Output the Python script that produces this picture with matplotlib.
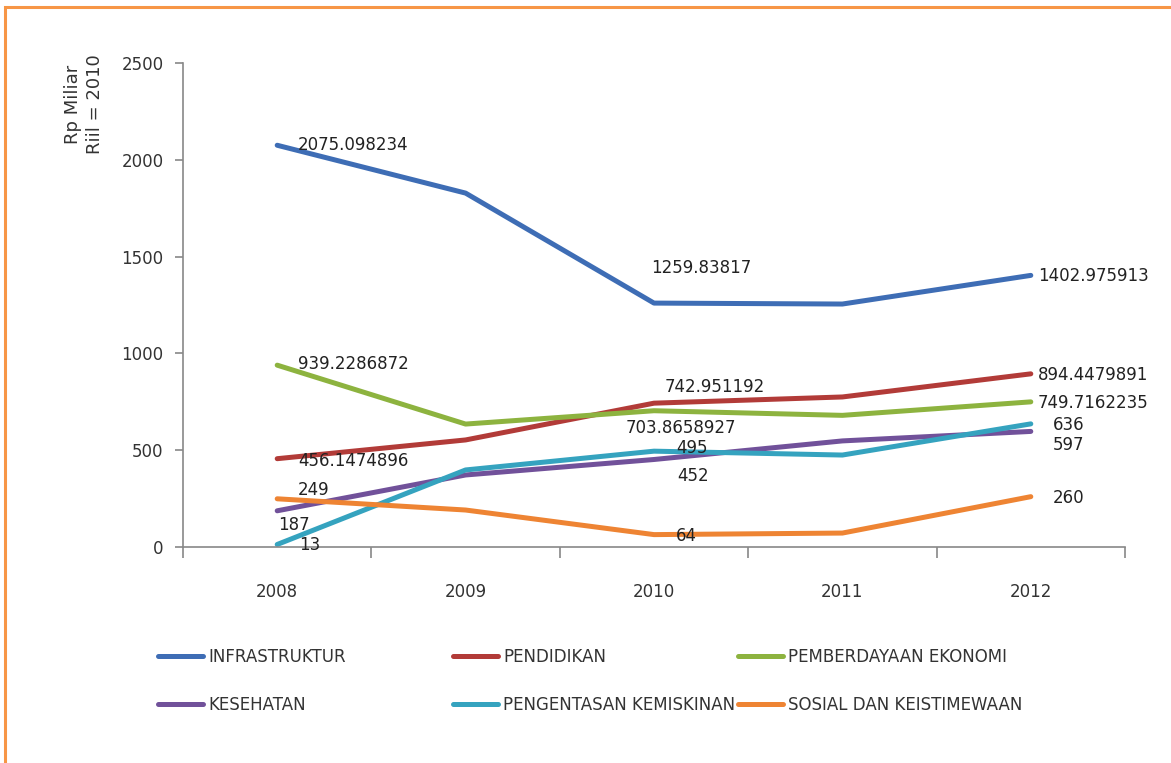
import matplotlib.pyplot as plt
from matplotlib.patches import Rectangle

plt.rcParams['font.family'] = ['DejaVu Sans']

years = ['2008', '2009', '2010', '2011', '2012']
series = ['INFRASTRUKTUR', 'PENDIDIKAN', 'PEMBERDAYAAN EKONOMI',
          'KESEHATAN', 'PENGENTASAN KEMISKINAN', 'SOSIAL DAN KEISTIMEWAAN']

infrastruktur = [2075.098234, 1828, 1259.83817, 1255, 1402.975913]
pendidikan = [456.1474896, 553, 742.951192, 775, 894.4479891]
pemberdayaan = [939.2286872, 635, 703.8658927, 680, 749.7162235]
kesehatan = [187, 372, 452, 548, 597]
pengentasan = [13, 398, 495, 475, 636]
sosial = [249, 191, 64, 72, 260]

# labels shown only for 2008, 2010, 2012
lab_infra = ['2075.098234', None, '1259.83817', None, '1402.975913']
lab_pend = ['456.1474896', None, '742.951192', None, '894.4479891']
lab_pemb = ['939.2286872', None, '703.8658927', None, '749.7162235']
lab_kes = ['187', None, '452', None, '597']
lab_peng = ['13', None, '495', None, '636']
lab_sos = ['249', None, '64', None, '260']

values = [infrastruktur, pendidikan, pemberdayaan, kesehatan, pengentasan, sosial]
labels = [lab_infra, lab_pend, lab_pemb, lab_kes, lab_peng, lab_sos]
colors = ['#3E6DB5', '#B23B38', '#8DB33F', '#71519A', '#35A3BF', '#EE8433']

# label offsets in pixels (dx, dy, ha)
offsets = [
    [(21, 0, 'left'), None, (47, 35, 'center'), None, (7, -1, 'left')],
    [(21, -2, 'left'), None, (11, 16, 'left'), None, (7, -1, 'left')],
    [(21, 1, 'left'), None, (-28, -17, 'left'), None, (7, -1, 'left')],
    [(1, -14, 'left'), None, (23, -17, 'left'), None, (22, -14, 'left')],
    [(22, -1, 'left'), None, (22, 3, 'left'), None, (22, -1, 'left')],
    [(21, 9, 'left'), None, (22, -1, 'left'), None, (22, -1, 'left')],
]

fig = plt.figure(figsize=(11.71, 7.63), dpi=100)
ax = fig.add_axes([183 / 1171, 1 - 547 / 763, (1125 - 183) / 1171, (547 - 63) / 763])

x = list(range(len(years)))
lines = []
for name, v, c in zip(series, values, colors):
    ln, = ax.plot(x, v, color=c, lw=3.6, solid_capstyle='round', solid_joinstyle='round', label=name)
    lines.append(ln)

for v, labs, offs in zip(values, labels, offsets):
    for i, (val, lab) in enumerate(zip(v, labs)):
        if lab is None:
            continue
        dx, dy, ha = offs[i]
        ax.annotate(lab, (i, val), xytext=(dx, dy), textcoords='offset pixels',
                    ha=ha, va='center', fontsize=12, color='#222222')

ax.set_xlim(-0.5, 4.5)
ax.set_ylim(0, 2500)
ax.set_yticks([0, 500, 1000, 1500, 2000, 2500])
ax.set_xticks(x)
ax.set_xticklabels(years)
ax.set_xticks([i - 0.5 for i in range(len(years) + 1)], minor=True)
ax.tick_params(axis='x', which='major', length=0, pad=26, labelsize=12, labelcolor='#333333')
ax.tick_params(axis='x', which='minor', length=8, color='#888888', width=1.2, direction='out')
ax.tick_params(axis='y', length=6, color='#888888', width=1.2, pad=8, labelsize=12, labelcolor='#333333')
for s in ['top', 'right']:
    ax.spines[s].set_visible(False)
for s in ['left', 'bottom']:
    ax.spines[s].set_color('#888888')
    ax.spines[s].set_linewidth(1.2)

fig.text(84 / 1171, 1 - 104 / 763, 'Rp Miliar\nRiil = 2010', rotation=90, ha='center', va='center',
         fontsize=13, color='#333333', linespacing=1.3)

# legend, three columns placed separately
cols = [(0, 3, 158), (1, 4, 453), (2, 5, 738)]
for a, b, xp in cols:
    leg = fig.legend([lines[a], lines[b]], [series[a], series[b]],
                     loc='upper left', bbox_to_anchor=(xp / 1171, 1 - 648 / 763),
                     frameon=False, fontsize=12, handlelength=2.7, handletextpad=0.3,
                     labelspacing=1.8, borderaxespad=0, borderpad=0)
    for t in leg.get_texts():
        t.set_color('#333333')

fig.add_artist(Rectangle((5 / 1171, -0.1), 1.2, 1 - 7 / 763 + 0.1, transform=fig.transFigure,
                         fill=False, edgecolor='#F79646', lw=2.2))

fig.savefig('out.png', dpi=100)
